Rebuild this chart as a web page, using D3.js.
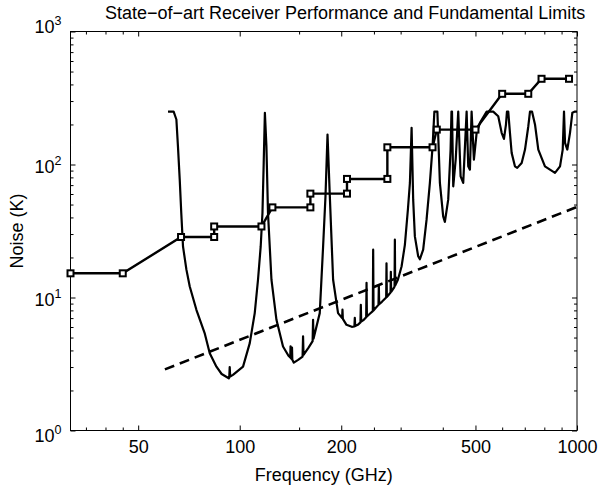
<!DOCTYPE html>
<html>
<head>
<meta charset="utf-8">
<script src="https://cdn.jsdelivr.net/npm/d3@7"></script>
<style>
body { margin: 0; background: #fff; }
svg text { font-family: "Liberation Sans", Arial, Helvetica, sans-serif; fill: #000; }
</style>
</head>
<body>
<div class="content"></div>
<script>
// state-of-art receivers (GHz, K), stepped
var recFreq  = [31.5, 45, 67, 84, 84, 116, 125, 162, 162, 208, 208, 274, 274, 373, 384, 500, 600, 717, 785, 947];
var recNoise = [15.2, 15.2, 28.5, 28.5, 34.2, 34.2, 47.6, 47.6, 60.4, 60.4, 77.9, 77.9, 134.7, 134.7, 183, 183, 340, 340, 441, 441];

// fundamental (quantum) limit, end points
var limFreq  = [60, 1000];
var limNoise = [2.88, 48];

// atmosphere noise curve
var atmFreq = [61.3, 63.7, 64.9, 65.6, 66.4, 67.1, 67.9, 69.5, 71.1, 74.4, 78.7, 81.5, 85.3, 88.4, 92.8, 93.1, 93.4, 93.7, 95.5,
  102.3, 107.1, 110.8, 113.3, 115.4, 116.8, 117.8, 118.75, 120.0, 121.3, 124.2, 128.5, 134.4, 139.5, 141.2, 141.5, 141.8,
  142.6, 142.9, 143.2, 144.7, 149, 153.6, 154.1, 154.6, 160, 164.5, 165.0, 165.5, 172.7, 176.7, 179.6, 182.1, 185.0, 189.2,
  195.7, 201.2, 201.7, 202.2, 207.3, 214.9, 218.8, 219.4, 220.0, 223.9, 228.0, 228.6, 229.2, 233.3, 237.1, 237.7, 238.3,
  243.1, 248.1, 248.7, 249.3, 253.3, 257.9, 258.5, 259.1, 263.9, 271.8, 272.4, 273.0, 275.0, 280.0, 280.6, 281.2, 286.4,
  287.8, 288.4, 289.0, 294.4, 301.9, 308.8, 315.2, 319.6, 323.3, 326.8, 330.6, 338.2, 342.1, 349.9, 358.1, 366.3, 373.1,
  377.7, 385.5, 392.2, 401.1, 405.8, 415.1, 421.9, 424.5, 426.0, 429.6, 437, 444.5, 451.8, 459.9, 470.7, 475.9, 481.4,
  487.0, 494.7, 504, 515.5, 539.7, 564.4, 584.1, 597.9, 607.4, 615.7, 619.9, 625.4, 632.7, 640.1, 654.6, 665, 685.4,
  701.2, 717.2, 725.5, 735.5, 750.7, 767.8, 803.5, 860.5, 890.5, 907.1, 915.1, 921.5, 936, 953.4, 968.8, 986.5, 1000];
var atmNoise = [250, 250, 218, 137, 76.9, 43.2, 24.2, 16.2, 12.1, 8.08, 5.40, 3.81, 3.02, 2.66, 2.47, 2.5, 3.0, 2.55, 2.62,
  3.02, 4.54, 7.63, 13.6, 24.2, 43.2, 103, 245, 137, 43.2, 13.6, 6.79, 4.28, 3.65, 3.55, 4.3, 3.5,
  3.45, 4.2, 3.4, 3.24, 3.4, 3.6, 5.1, 3.7, 4.2, 4.7, 6.8, 4.9, 7.63, 24.2, 57.6, 168, 57.6, 13.6,
  7.63, 7.0, 8.1, 6.9, 6.23, 6.02, 6.05, 7.03, 6.1, 6.23, 6.5, 8.81, 6.6, 6.79, 7.1, 12.9, 7.2,
  7.54, 7.9, 22.9, 8.0, 8.36, 8.8, 12.4, 8.9, 9.28, 10.0, 18.1, 10.1, 10.3, 10.9, 15.6, 11.0, 11.8,
  12.1, 27.2, 12.3, 13.6, 17.1, 24.9, 45.7, 72.7, 189, 54.4, 28.8, 20.4, 19.4, 22.9, 38.5, 72.7, 137,
  250, 250, 72.7, 40.7, 37.0, 54.4, 129.5, 250, 250, 68.5, 110, 250, 81.5, 72.7, 250, 96.9, 91.5,
  250, 108.9, 173, 205.7, 250, 250, 230.7, 173, 155.9, 199.7, 250, 250, 173, 122.3, 96.9, 94.3, 102.8,
  129.5, 194, 250, 250, 200, 129.5, 96.9, 86.4, 96.9, 129.5, 250, 145.4, 129.5, 173, 245, 250, 250];

var xMajor = [50, 100, 200, 500, 1000];
var xMinor = [35, 40, 45, 150, 250, 300, 400, 600, 700, 800, 900];
var yMajor = [1, 10, 100, 1000];
var yMinor = [2, 3, 4, 5, 6, 7, 8, 9, 20, 30, 40, 50, 60, 70, 80, 90, 200, 300, 400, 500, 600, 700, 800, 900];

var W = 602, H = 489;
var pLeft = 70.5, pRight = 577, pTop = 31.5, pBottom = 430.5;

var svg = d3.select('.content').append('svg')
    .attr('width', W)
    .attr('height', H);

var x = d3.scaleLog().domain([31.5, 1000]).range([pLeft, pRight]);
var y = d3.scaleLog().domain([1, 1000]).range([pBottom, pTop]);

svg.append('clipPath').attr('id', 'plot')
  .append('rect')
    .attr('x', pLeft).attr('y', pTop)
    .attr('width', pRight - pLeft).attr('height', pBottom - pTop);

// ticks, pointing inward on all four sides
function ticks(axis, vals, size, tx, ty) {
    var g = svg.append('g')
        .attr('transform', 'translate(' + tx + ',' + ty + ')')
        .call(axis.tickValues(vals).tickSize(-size).tickSizeOuter(0).tickFormat(''));
    g.select('.domain').remove();
    g.selectAll('line').attr('stroke', '#000');
    return g;
}
ticks(d3.axisBottom(x), xMinor, 3, 0, pBottom);
ticks(d3.axisTop(x), xMinor, 3, 0, pTop);
ticks(d3.axisBottom(x), xMajor, 5, 0, pBottom);
ticks(d3.axisTop(x), xMajor, 5, 0, pTop);
ticks(d3.axisLeft(y), yMinor, 3, pLeft, 0);
ticks(d3.axisRight(y), yMinor, 3, pRight, 0);
ticks(d3.axisLeft(y), yMajor, 5, pLeft, 0);
ticks(d3.axisRight(y), yMajor, 5, pRight, 0);

// x tick labels
var xl = svg.append('g')
    .attr('transform', 'translate(0,' + pBottom + ')')
    .call(d3.axisBottom(x).tickValues(xMajor).tickSize(0).tickPadding(10).tickFormat(d3.format('d')));
xl.select('.domain').remove();
xl.selectAll('text').attr('font-size', '18px');

// y tick labels as powers of ten (end labels nudged like the original)
var yl = svg.append('g')
    .attr('transform', 'translate(' + pLeft + ',0)')
    .call(d3.axisLeft(y).tickValues(yMajor).tickSize(0).tickPadding(9));
yl.select('.domain').remove();
yl.selectAll('.tick text').each(function(d) {
    var nudge = d === 1000 ? -7 : (d === 1 ? 3 : 0);
    var t = d3.select(this).text(null).attr('font-size', '18px')
        .attr('y', nudge).attr('dy', '0.42em');
    t.append('tspan').text('10');
    t.append('tspan').attr('dy', '-0.6em').attr('font-size', '12.5px').text(Math.round(Math.log10(d)));
});

// frame
svg.append('rect')
    .attr('x', pLeft).attr('y', pTop)
    .attr('width', pRight - pLeft).attr('height', pBottom - pTop)
    .attr('fill', 'none').attr('stroke', '#000').attr('stroke-width', 1);

var line = d3.line()
    .x(function(d) { return x(d[0]); })
    .y(function(d) { return y(d[1]); });

var plot = svg.append('g').attr('clip-path', 'url(#plot)');

plot.append('path')
    .datum(d3.zip(atmFreq, atmNoise))
    .attr('d', line)
    .attr('fill', 'none').attr('stroke', '#000').attr('stroke-width', 2.2)
    .attr('stroke-linejoin', 'round');

plot.append('path')
    .datum(d3.zip(limFreq, limNoise))
    .attr('d', line)
    .attr('fill', 'none').attr('stroke', '#000').attr('stroke-width', 2.6)
    .attr('stroke-dasharray', '10,6');

var rec = d3.zip(recFreq, recNoise);
svg.append('path')
    .datum(rec)
    .attr('d', line)
    .attr('fill', 'none').attr('stroke', '#000').attr('stroke-width', 2.4);

svg.selectAll('rect.mk')
    .data(rec)
    .enter().append('rect')
    .attr('class', 'mk')
    .attr('x', function(d) { return x(d[0]) - 3; })
    .attr('y', function(d) { return y(d[1]) - 3; })
    .attr('width', 6).attr('height', 6)
    .attr('fill', '#fff').attr('stroke', '#000').attr('stroke-width', 2);

// titles
svg.append('text')
    .attr('x', 105).attr('y', 19)
    .attr('font-size', '18px')
    .text('State\u2212of\u2212art Receiver Performance and Fundamental Limits');

svg.append('text')
    .attr('x', (pLeft + pRight) / 2).attr('y', 481)
    .attr('text-anchor', 'middle')
    .attr('font-size', '18px')
    .text('Frequency (GHz)');

svg.append('text')
    .attr('transform', 'translate(23,' + (pTop + pBottom) / 2 + ') rotate(-90)')
    .attr('text-anchor', 'middle')
    .attr('font-size', '18px')
    .text('Noise (K)');
</script>
</body>
</html>
